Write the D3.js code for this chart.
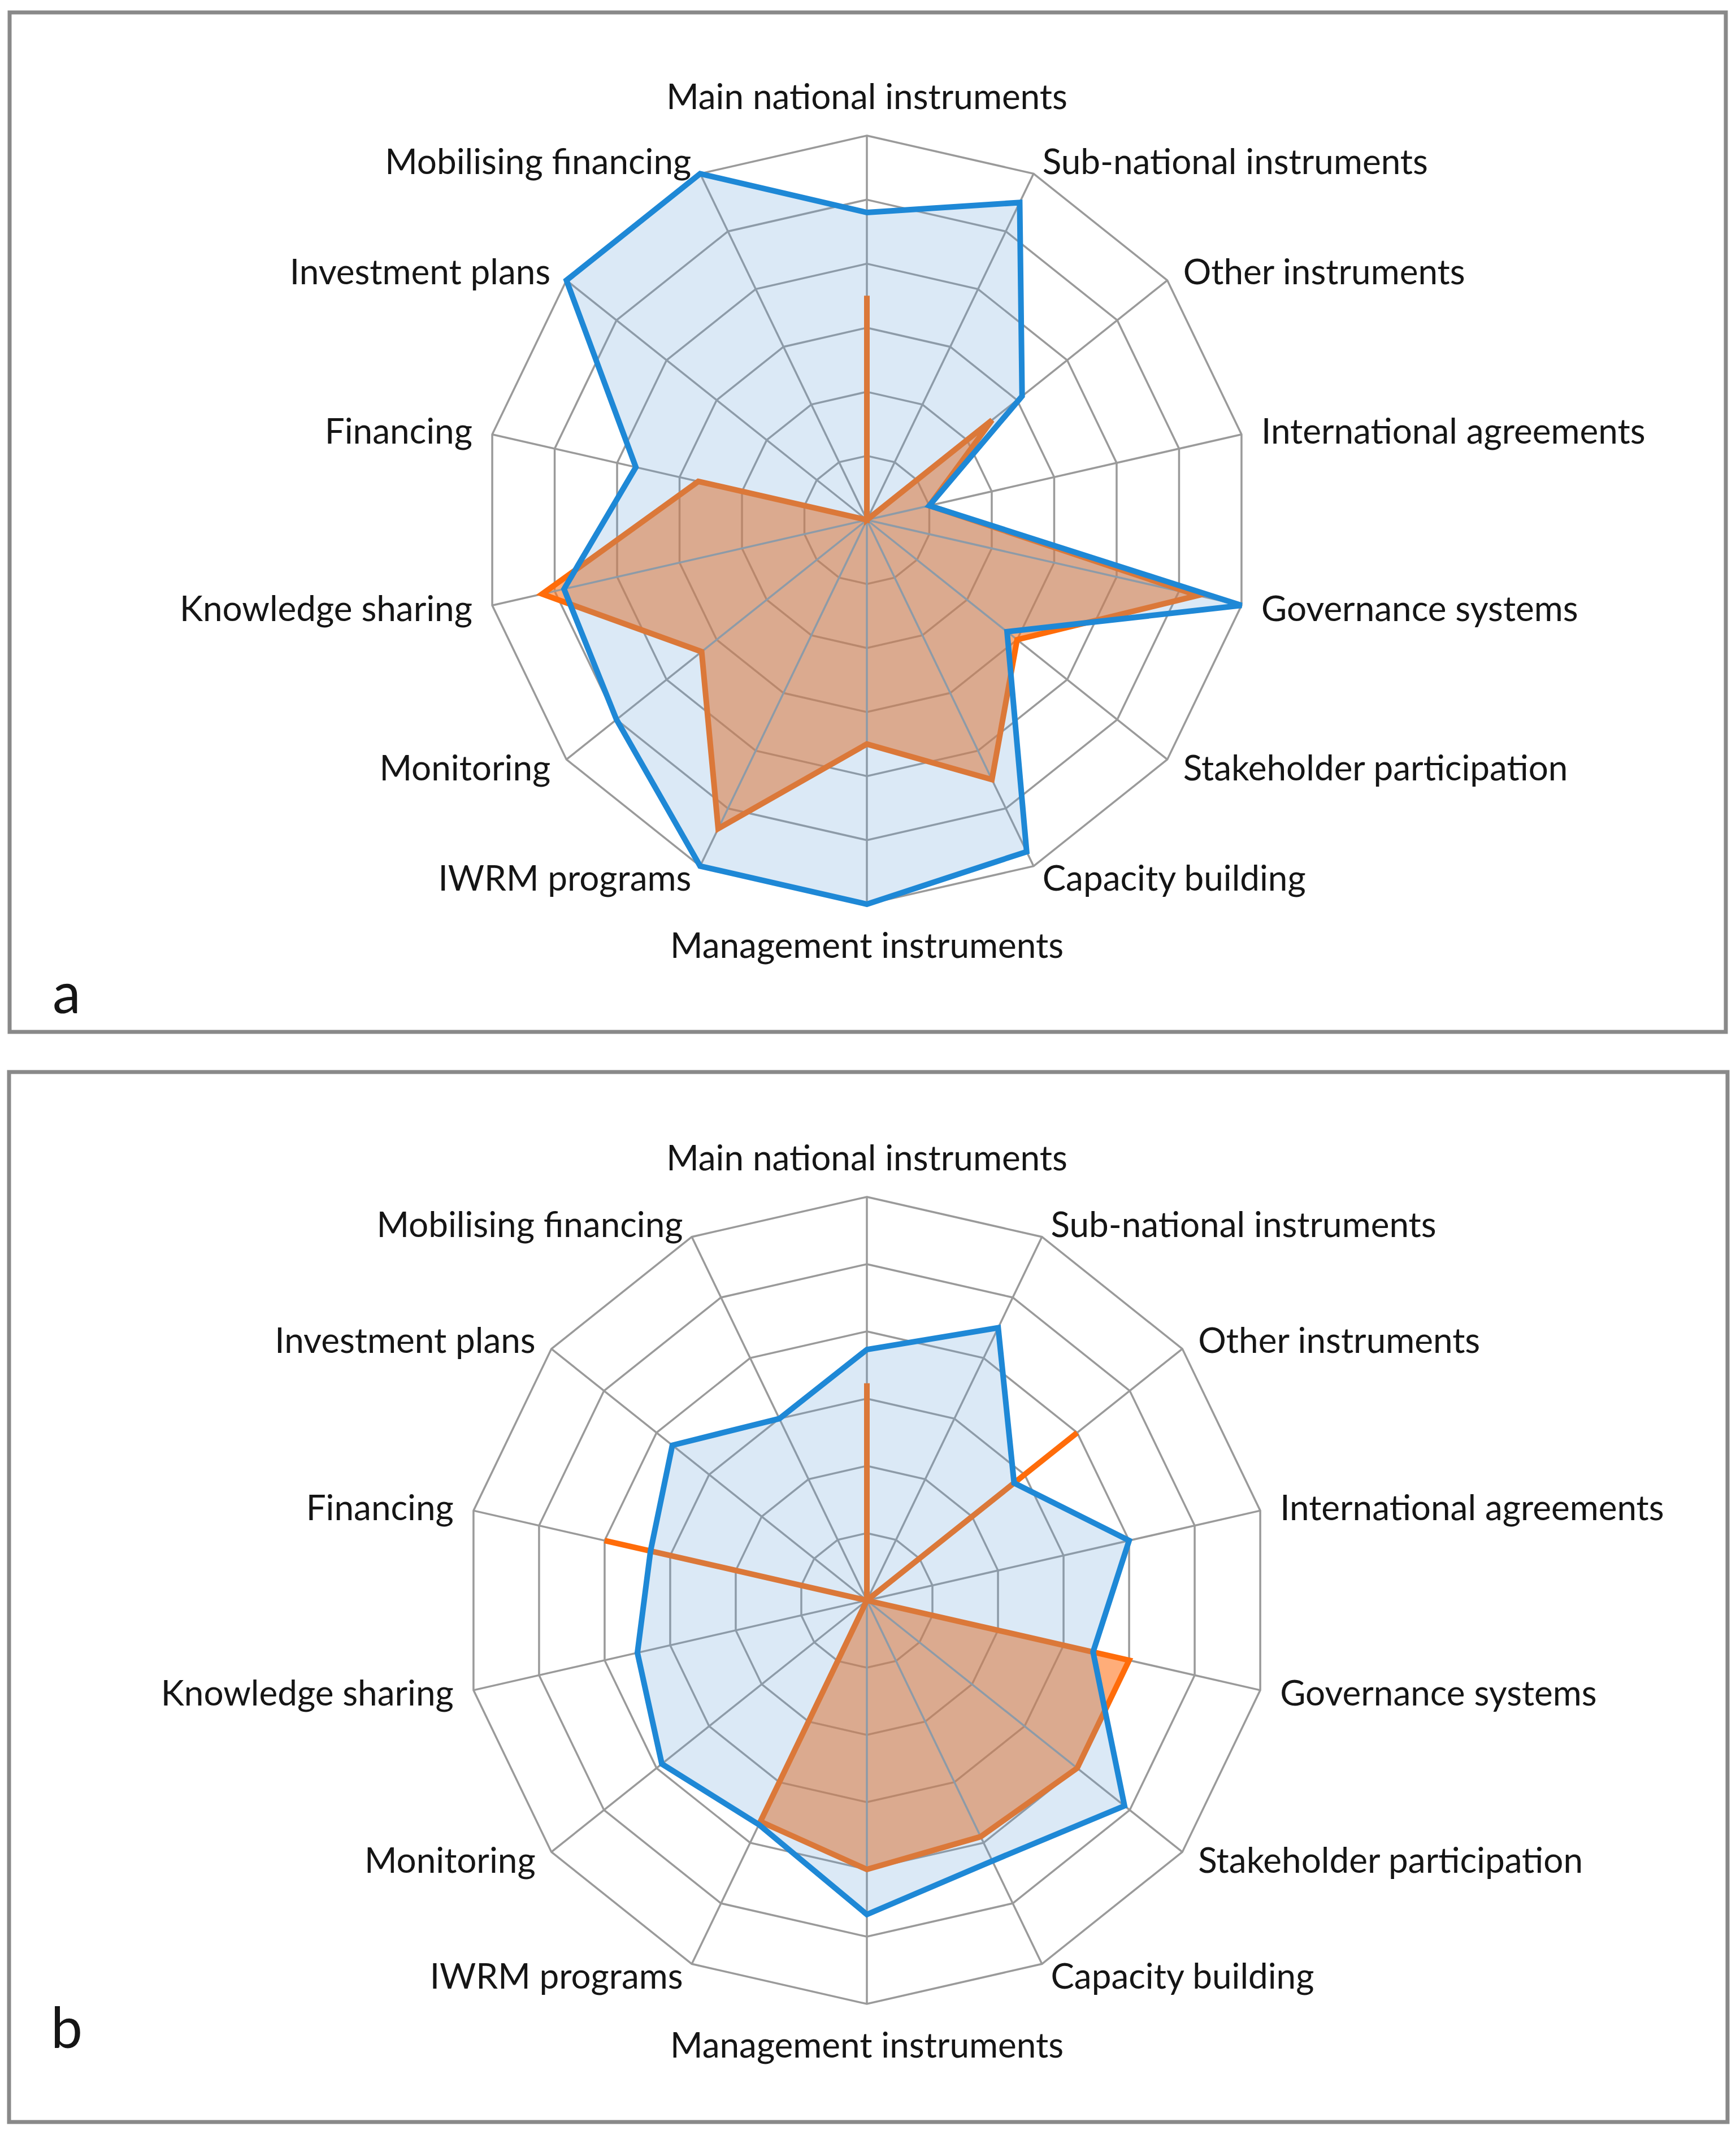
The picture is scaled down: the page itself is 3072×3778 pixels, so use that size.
<!DOCTYPE html>
<html>
<head>
<meta charset="utf-8">
<script src="https://cdn.jsdelivr.net/npm/d3@7"></script>
<style>
  body { margin: 0; background: #fff; }
  text { font-family: Lato, "Open Sans", sans-serif; fill: #151515; }
</style>
</head>
<body>
<script>
// axis order, clockwise from the top
var categories = [
    'Main national instruments', 'Sub-national instruments', 'Other instruments',
    'International agreements', 'Governance systems', 'Stakeholder participation',
    'Capacity building', 'Management instruments', 'IWRM programs', 'Monitoring',
    'Knowledge sharing', 'Financing', 'Investment plans', 'Mobilising financing'
];

// panel a
var blueA   = [4.8, 5.5, 3.1, 1.0, 6.0, 2.8, 5.75, 6.0, 6.0, 5.0, 4.85, 3.7, 6.0, 6.0];
var orangeA = [3.5, 0,   2.5, 1.0, 5.3, 3.0, 4.5,  3.5, 5.35, 3.3, 5.2, 2.7, 0,   0];

// panel b
var blueB   = [3.73, 4.5, 2.8, 4.0, 3.45, 4.9, 4.3, 4.67, 3.7, 3.9, 3.5, 3.3, 3.7, 3.0];
var orangeB = [3.23, 0,   4.0, 0,   4.0,  4.0, 3.9, 4.0,  3.65, 0,  0,   4.0, 0,   0];

var ringLevels = [1, 2, 3, 4, 5, 6];
var panelTags = ['a', 'b'];

var w = 3072,
    h = 3778;

var svg = d3.select('body')
    .append('svg')
    .attr('width', w)
    .attr('height', h);

var panels = [
    { tag: panelTags[0], blue: blueA, orange: orangeA,
      box: { x0: 17, y0: 22, x1: 3054, y1: 1826 },
      cx: 1534, cy: 920, r: 680, tagX: 93, tagY: 1793 },
    { tag: panelTags[1], blue: blueB, orange: orangeB,
      box: { x0: 16, y0: 1897, x1: 3057, y1: 3755 },
      cx: 1534, cy: 2832, r: 714, tagX: 90, tagY: 3624 }
];

var n = categories.length;
var angle = d3.scaleLinear().domain([0, n]).range([0, 2 * Math.PI]);

var drawPanel = function(p) {
    var rScale = d3.scaleLinear().domain([0, 6]).range([0, p.r]);

    var radar = d3.lineRadial()
        .angle(function(d, i) { return angle(i); })
        .radius(function(d) { return rScale(d); })
        .curve(d3.curveLinearClosed);

    svg.append('rect')
        .attr('x', p.box.x0)
        .attr('y', p.box.y0)
        .attr('width', p.box.x1 - p.box.x0)
        .attr('height', p.box.y1 - p.box.y0)
        .attr('fill', '#fff')
        .attr('stroke', '#898989')
        .attr('stroke-width', 7);

    var g = svg.append('g')
        .attr('transform', 'translate(' + p.cx + ',' + p.cy + ')');

    // rings
    g.selectAll('.ring')
        .data(ringLevels)
        .enter()
        .append('path')
        .attr('class', 'ring')
        .attr('d', function(k) { return radar(categories.map(function() { return k; })); })
        .attr('fill', 'none')
        .attr('stroke', '#9a9a9a')
        .attr('stroke-width', 3.5);

    // orange area goes underneath
    g.append('path')
        .attr('d', radar(p.orange))
        .attr('fill', 'rgb(255,110,20)')
        .attr('fill-opacity', 0.57)
        .attr('stroke', 'none');

    // spokes
    g.selectAll('.spoke')
        .data(categories)
        .enter()
        .append('line')
        .attr('class', 'spoke')
        .attr('x1', 0)
        .attr('y1', 0)
        .attr('x2', function(d, i) { return rScale(6) * Math.sin(angle(i)); })
        .attr('y2', function(d, i) { return -rScale(6) * Math.cos(angle(i)); })
        .attr('stroke', '#9a9a9a')
        .attr('stroke-width', 3.5);

    g.append('path')
        .attr('d', radar(p.orange))
        .attr('fill', 'none')
        .attr('stroke', '#ff6c0a')
        .attr('stroke-width', 10)
        .attr('stroke-linejoin', 'miter');

    // blue fill on top, translucent
    g.append('path')
        .attr('d', radar(p.blue))
        .attr('fill', 'rgb(100,161,217)')
        .attr('fill-opacity', 0.23)
        .attr('stroke', '#1e88d6')
        .attr('stroke-width', 10)
        .attr('stroke-linejoin', 'miter');

    // category labels
    g.selectAll('.label')
        .data(categories)
        .enter()
        .append('text')
        .attr('class', 'label')
        .attr('font-size', 62)
        .attr('text-anchor', function(d, i) {
            if (i === 0 || i === n / 2) return 'middle';
            return i < n / 2 ? 'start' : 'end';
        })
        .attr('x', function(d, i) { return (rScale(6) + 36) * Math.sin(angle(i)); })
        .attr('y', function(d, i) {
            var c = Math.cos(angle(i));
            if (i === 0) return -rScale(6) - 47;
            if (i === n / 2) return rScale(6) + 95;
            return -(rScale(6) + 36) * c + 22 + 12 * c;
        })
        .text(function(d) { return d; });

    svg.append('text')
        .attr('x', p.tagX)
        .attr('y', p.tagY)
        .attr('font-size', 100)
        .text(p.tag);
};

panels.forEach(drawPanel);
</script>
</body>
</html>
